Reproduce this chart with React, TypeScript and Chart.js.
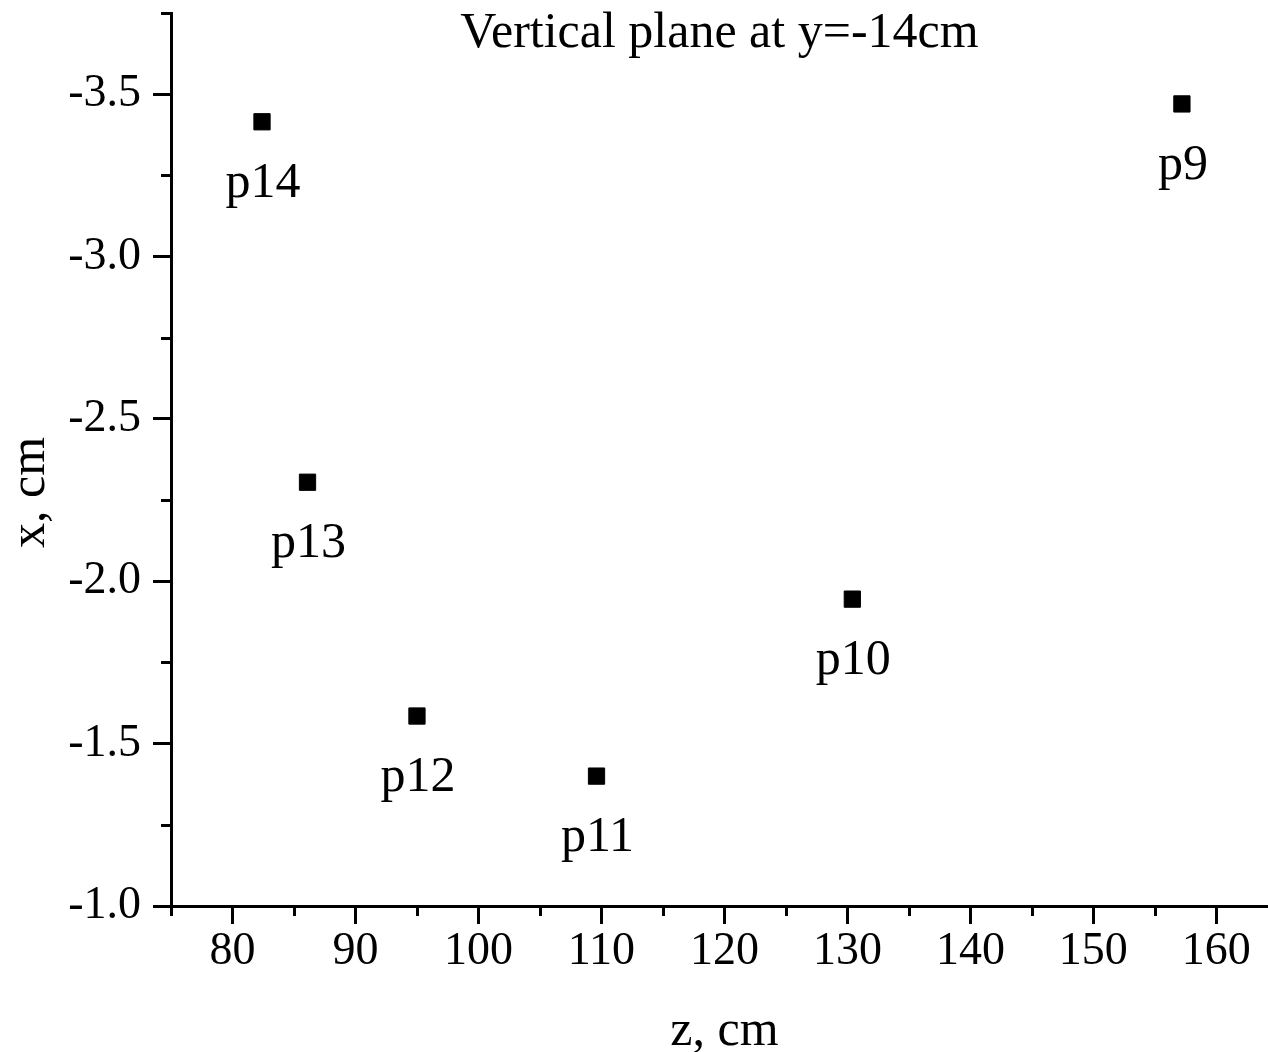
import React, { useEffect, useRef } from 'react';
import { Chart, registerables } from 'chart.js';

Chart.register(...registerables);

// ---- data ----
const pointNames = ['p9', 'p10', 'p11', 'p12', 'p13', 'p14'];
const zValues = [157.2, 130.4, 109.6, 95.0, 86.1, 82.4];
const xValues = [-3.47, -1.945, -1.4, -1.585, -2.305, -3.415];

const zMajorTicks = [80, 90, 100, 110, 120, 130, 140, 150, 160];
const zMinorTicks = [75, 85, 95, 105, 115, 125, 135, 145, 155];
const xMajorTicks = [-3.5, -3.0, -2.5, -2.0, -1.5, -1.0];
const xMinorTicks = [-3.75, -3.25, -2.75, -2.25, -1.75, -1.25];

const chartTitle = 'Vertical plane at y=-14cm';
const zAxisTitle = 'z, cm';
const xAxisTitle = 'x, cm';

const FONT = '"Liberation Serif", "Times New Roman", serif';
const W = 1268;
const H = 1052;

const overlayPlugin = {
  id: 'overlay',
  afterDraw(chart: any) {
    const { ctx, chartArea, scales } = chart;
    const xs = scales.x;
    const ys = scales.y;
    ctx.save();
    // minor ticks
    ctx.strokeStyle = '#000';
    ctx.lineWidth = 3;
    ctx.beginPath();
    zMinorTicks.forEach((v) => {
      const px = Math.round(xs.getPixelForValue(v)) + 0.5;
      ctx.moveTo(px, chartArea.bottom);
      ctx.lineTo(px, chartArea.bottom + 10);
    });
    xMinorTicks.forEach((v) => {
      const py = Math.round(ys.getPixelForValue(v)) + 0.5;
      ctx.moveTo(chartArea.left, py);
      ctx.lineTo(chartArea.left - 10, py);
    });
    ctx.stroke();

    ctx.fillStyle = '#000';
    ctx.font = `50px ${FONT}`;
    ctx.textAlign = 'center';
    ctx.textBaseline = 'alphabetic';
    const meta = chart.getDatasetMeta(0);
    meta.data.forEach((el: any, i: number) => {
      ctx.fillText(pointNames[i], el.x + 1, el.y + 75);
    });

    const cx = (chartArea.left + chartArea.right) / 2;
    ctx.fillText(chartTitle, cx, chartArea.top + 34);
    ctx.fillText(zAxisTitle, cx + 5, chartArea.bottom + 139);

    ctx.translate(chartArea.left - 127, (chartArea.top + chartArea.bottom) / 2 + 33);
    ctx.rotate(-Math.PI / 2);
    ctx.fillText(xAxisTitle, 0, 0);
    ctx.restore();
  },
};

export default function App() {
  const canvasRef = useRef<HTMLCanvasElement | null>(null);

  useEffect(() => {
    document.body.style.margin = '0';
    document.body.style.overflow = 'hidden';
    document.documentElement.style.overflow = 'hidden';
    if (!canvasRef.current) return;
    const chart = new Chart(canvasRef.current, {
      type: 'scatter',
      data: {
        datasets: [
          {
            label: 'points',
            data: zValues.map((z, i) => ({ x: z, y: xValues[i] })),
            pointStyle: 'rect',
            pointRadius: 11.5,
            pointHoverRadius: 11.5,
            backgroundColor: '#000',
            borderColor: '#000',
            borderWidth: 1,
            showLine: false,
          },
        ],
      },
      options: {
        animation: false,
        responsive: false,
        maintainAspectRatio: false,
        devicePixelRatio: 1,
        events: [],
        layout: { autoPadding: false, padding: { top: 13, left: 0, right: 0, bottom: 0 } },
        plugins: {
          legend: { display: false },
          tooltip: { enabled: false },
          title: { display: false },
        },
        scales: {
          x: {
            type: 'linear',
            min: 75,
            max: 164.2,
            afterBuildTicks: (s: any) => {
              s.ticks = zMajorTicks.map((v) => ({ value: v }));
            },
            afterFit: (s: any) => {
              s.height = 146;
              s.paddingLeft = 0;
              s.paddingRight = 0;
            },
            grid: {
              display: true,
              drawOnChartArea: false,
              drawTicks: true,
              tickLength: 18,
              tickWidth: 3,
              tickColor: '#000',
            },
            border: { display: true, color: '#000', width: 3 },
            ticks: {
              color: '#000',
              font: { family: FONT, size: 46 },
              padding: 0,
              maxRotation: 0,
              autoSkip: false,
              callback: (v: any) => String(v),
            },
          },
          y: {
            type: 'linear',
            reverse: true,
            min: -3.75,
            max: -1.0,
            afterBuildTicks: (s: any) => {
              s.ticks = xMajorTicks.map((v) => ({ value: v }));
            },
            afterFit: (s: any) => {
              s.width = 171;
              s.paddingTop = 0;
              s.paddingBottom = 0;
            },
            grid: {
              display: true,
              drawOnChartArea: false,
              drawTicks: true,
              tickLength: 18,
              tickWidth: 3,
              tickColor: '#000',
            },
            border: { display: true, color: '#000', width: 3 },
            ticks: {
              color: '#000',
              font: { family: FONT, size: 46 },
              padding: 12,
              autoSkip: false,
              callback: (v: any) => Number(v).toFixed(1),
            },
          },
        },
      },
      plugins: [overlayPlugin],
    });
    return () => chart.destroy();
  }, []);

  return (
    <div style={{ position: 'absolute', left: 0, top: 0, width: W, height: H, background: '#fff' }}>
      <canvas ref={canvasRef} width={W} height={H} style={{ display: 'block', width: W, height: H }} />
    </div>
  );
}
